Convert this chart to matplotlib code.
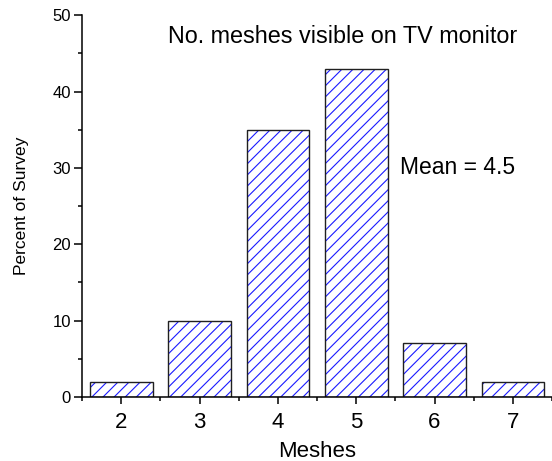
import matplotlib
matplotlib.use("Agg")
import matplotlib.pyplot as plt
from matplotlib.ticker import MultipleLocator

plt.rcParams['font.family'] = ['Liberation Sans', 'DejaVu Sans']
plt.rcParams['hatch.linewidth'] = 0.8

meshes = [2, 3, 4, 5, 6, 7]
percent = [2, 10, 35, 43, 7, 2]

fig = plt.figure(figsize=(5.52, 4.61), dpi=100)
ax = fig.add_axes([0.1486, 0.139, 0.8514, 0.828])

# hatch in blue, outline in black (drawn as two layers)
ax.bar(meshes, percent, width=0.8, color='white', edgecolor='#1a1aff',
       hatch='///', linewidth=0)
ax.bar(meshes, percent, width=0.8, color='none', edgecolor='#202020',
       linewidth=1.0)

ax.set_xlim(1.5, 7.5)
ax.set_ylim(0, 50)
ax.set_xticks(meshes)
ax.xaxis.set_minor_locator(MultipleLocator(1, offset=0.5))
ax.yaxis.set_major_locator(MultipleLocator(10))
ax.yaxis.set_minor_locator(MultipleLocator(5))

for s in ['top', 'right']:
    ax.spines[s].set_visible(False)
for s in ['left', 'bottom']:
    ax.spines[s].set_linewidth(1.1)

ax.tick_params(axis='x', which='major', direction='out', length=5, width=1.1,
               labelsize=16, pad=6)
ax.tick_params(axis='x', which='minor', direction='out', length=3, width=1.1)
ax.tick_params(axis='y', which='major', direction='out', length=6, width=1.1,
               labelsize=12, pad=2)
ax.tick_params(axis='y', which='minor', direction='out', length=3, width=1.1)

ax.set_xlabel('Meshes', fontsize=16, labelpad=5.5)
ax.set_ylabel('Percent of Survey', fontsize=12.5, labelpad=17)

ax.text(4.83, 47.2, 'No. meshes visible on TV monitor', fontsize=16.8,
        ha='center', va='center')
ax.text(5.56, 30.1, 'Mean = 4.5', fontsize=16.5, ha='left', va='center')

fig.savefig('out.png', dpi=100)
